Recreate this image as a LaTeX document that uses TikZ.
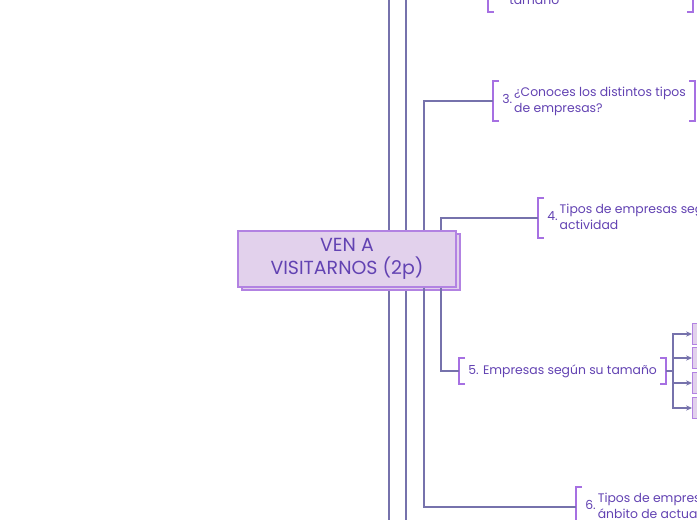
\documentclass[tikz,border=0pt]{standalone}
\usepackage{fontspec}
\setmainfont{Poppins}
\usetikzlibrary{arrows.meta,calc,shadows}

\definecolor{linkcol}{RGB}{118,114,172}
\definecolor{brkcol}{RGB}{166,112,226}
\definecolor{txtcol}{RGB}{98,66,178}
\definecolor{boxfill}{RGB}{226,209,236}
\definecolor{boxline}{RGB}{178,130,226}

% brackets round a topic node
\newcommand\brackets[1]{%
    \draw[brk] ($(#1.north west)+(6,0)$) -| (#1.south west) -- +(6,0);
    \draw[brk] ($(#1.north east)+(-6,0)$) -| (#1.south east) -- +(-6,0);
}

\begin{document}
\begin{tikzpicture}[
    x=0.75pt, y=-0.75pt,
    every node/.style={font=\fontsize{9.3}{12}\selectfont, text=txtcol},
    central/.style={
        draw=boxline,
        line width=1.1pt,
        fill=boxfill,
        align=center,
        minimum width=163.5pt,
        minimum height=42pt,
        font=\fontsize{14.2}{17.25}\selectfont,
        copy shadow={shadow xshift=3pt, shadow yshift=-2.25pt}
    },
    topic/.style={anchor=west, inner xsep=6.75pt, inner ysep=0pt},
    sub/.style={anchor=west, draw=boxline, fill=boxfill, line width=0.8pt,
        minimum width=15pt, minimum height=15.75pt, inner sep=0pt},
    brk/.style={draw=brkcol, line width=1.8pt},
    link/.style={draw=linkcol, line width=1.4pt},
    tip/.style={-{Stealth[length=4.5pt, width=4pt]}}
]
    \useasboundingbox (0,0) rectangle (697,520);

    % Rails
    \coordinate (topA) at (389,-5);
    \coordinate (botA) at (389,525);
    \coordinate (topB) at (406,-5);
    \coordinate (botB) at (406,525);
    \coordinate (railC) at (424,0);
    \coordinate (railD) at (441,0);
    \draw[link] (topA) -- (botA);
    \draw[link] (topB) -- (botB);

    % Central topic
    \node[central] (main) at (347,259) {VEN A\\ VISITARNOS (2p)};

    % Topic cut at the top
    \node[anchor=base west, inner sep=0pt] (t2) at (509,5) {tamaño};
    \draw[brk] (488,-5) |- (494,12);
    \draw[brk] (693,-5) |- (687,12);

    % Topics
    \node[topic, minimum height=29.25pt] (n3) at (493,101)
        {3.\,\begin{tabular}{@{}l@{}}¿Conoces los distintos tipos\\ de empresas?\end{tabular}};
    \node[topic, minimum height=29.25pt] (n4) at (538,218)
        {4.\,\begin{tabular}{@{}l@{}}Tipos de empresas según su\\ actividad\end{tabular}};
    \node[topic, minimum height=19.5pt] (n5) at (459,371)
        {5. Empresas según su tamaño};
    \node[topic, minimum height=29.25pt] (n6) at (576,507)
        {6.\,\begin{tabular}{@{}l@{}}Tipos de empresas según su\\ ánbito de actuación\end{tabular}};

    \brackets{n3}
    \brackets{n4}
    \brackets{n5}
    \brackets{n6}

    \draw[link] (main.north -| railC) |- (n3.west);
    \draw[link] (main.north -| railD) |- (n4.west);
    \draw[link] (main.south -| railD) |- (n5.west);
    \draw[link] (main.south -| railC) |- (n6.west);

    % Subtopics of 5
    \coordinate (fork) at (673,371);
    \node[sub] (s1) at (692,334) {};
    \node[sub] (s2) at (692,358) {};
    \node[sub] (s3) at (692,383) {};
    \node[sub] (s4) at (692,408) {};

    \draw[link] (n5.east) -- (fork);
    \foreach \s in {s1,s2,s3,s4}
        \draw[link, tip] (fork) |- (\s.west);

\end{tikzpicture}
\end{document}
